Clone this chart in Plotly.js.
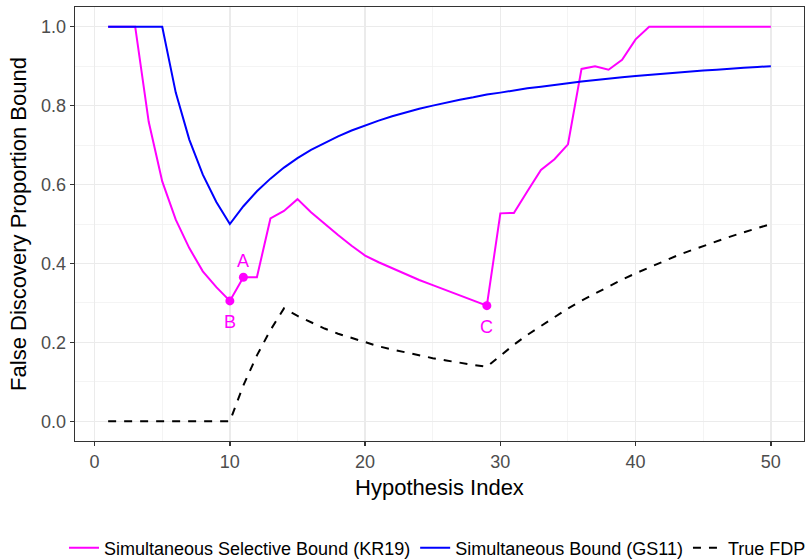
<!DOCTYPE html>
<html>
<head>
<meta charset="utf-8">
<script src="https://cdn.plot.ly/plotly-3.0.1.min.js"></script>
<style>html,body{margin:0;padding:0;background:#fff;}#chart{width:808px;height:560px;}</style>
</head>
<body>
<div id="chart"></div>
<script>
// Hypothesis index (x)
const hypIndex = [1,2,3,4,5,6,7,8,9,10,11,12,13,14,15,16,17,18,19,20,21,22,23,24,25,26,27,28,29,30,31,32,33,34,35,36,37,38,39,40,41,42,43,44,45,46,47,48,49,50];

// Simultaneous Selective Bound (KR19)
const kr19 = [1.0,1.0,1.0,0.759,0.608,0.511,0.439,0.38,0.340,0.305,0.365,0.365,0.514,0.533,0.563,0.530,0.500,0.472,0.445,0.420,0.403,0.388,0.372,0.358,0.345,0.332,0.318,0.305,0.293,0.527,0.528,0.583,0.637,0.664,0.702,0.893,0.900,0.891,0.916,0.968,1.0,1.0,1.0,1.0,1.0,1.0,1.0,1.0,1.0,1.0];

// Simultaneous Bound (GS11)
const gs11 = [1.0,1.0,1.0,1.0,1.0,0.833,0.714,0.625,0.556,0.5,0.545,0.583,0.615,0.643,0.667,0.688,0.706,0.722,0.737,0.75,0.762,0.773,0.783,0.792,0.8,0.808,0.815,0.821,0.828,0.833,0.839,0.844,0.848,0.853,0.857,0.861,0.865,0.868,0.872,0.875,0.878,0.881,0.884,0.886,0.889,0.891,0.894,0.896,0.898,0.9];

// True FDP
const trueFDP = [0,0,0,0,0,0,0,0,0,0,0.091,0.167,0.231,0.286,0.267,0.25,0.235,0.222,0.211,0.2,0.19,0.182,0.174,0.167,0.16,0.154,0.148,0.143,0.138,0.167,0.194,0.219,0.242,0.265,0.286,0.306,0.324,0.342,0.359,0.375,0.39,0.405,0.419,0.432,0.444,0.457,0.468,0.479,0.49,0.5];

// Labelled points on KR19
const pointIdx = [11, 10, 29];
const pointLabels = ['A', 'B', 'C'];
const labelAbove = [true, false, false];

const xTicks = [0,10,20,30,40,50];
const yTicks = [0.0,0.2,0.4,0.6,0.8,1.0];

const FONT = 'Liberation Sans, Arial, sans-serif';
const MAG = '#FF00FF', BLUE = '#0000FF';

const ptY = pointIdx.map(i => kr19[hypIndex.indexOf(i)]);

const traces = [
  {x: hypIndex, y: kr19, type: 'scatter', mode: 'lines', name: 'Simultaneous Selective Bound (KR19)',
   line: {color: MAG, width: 2}},
  {x: hypIndex, y: gs11, type: 'scatter', mode: 'lines', name: 'Simultaneous Bound (GS11)',
   line: {color: BLUE, width: 2}},
  {x: hypIndex, y: trueFDP, type: 'scatter', mode: 'lines', name: 'True FDP',
   line: {color: '#000000', width: 2, dash: '8px,8px'}},
  {x: pointIdx, y: ptY, type: 'scatter', mode: 'markers', showlegend: false,
   marker: {color: MAG, size: 9}}
];

const annotations = pointIdx.map((xi, k) => ({
  x: xi, y: ptY[k], xref: 'x', yref: 'y', text: pointLabels[k], showarrow: false,
  yshift: labelAbove[k] ? 16 : -21, xanchor: 'center', yanchor: 'middle',
  font: {family: FONT, size: 18, color: MAG}
}));

const axisCommon = {
  showgrid: true, gridcolor: '#EBEBEB', gridwidth: 1.3,
  zeroline: false, showline: true, mirror: true, linecolor: '#333333', linewidth: 1.3,
  ticks: 'outside', ticklen: 4, tickwidth: 1.3, tickcolor: '#333333',
  tickfont: {family: FONT, size: 18, color: '#4D4D4D'}, automargin: false
};

const layout = {
  width: 808, height: 560,
  margin: {l: 75, r: 4, t: 7, b: 119, autoexpand: false},
  paper_bgcolor: '#FFFFFF', plot_bgcolor: '#FFFFFF',
  font: {family: FONT},
  showlegend: true,
  xaxis: Object.assign({}, axisCommon, {
    range: [-1.45, 52.45], tickmode: 'array', tickvals: xTicks, ticktext: xTicks.map(String),
    minor: {dtick: 5, tick0: 0, showgrid: true, gridcolor: '#F0F0F0', gridwidth: 0.7, ticks: ''},
    title: {text: 'Hypothesis Index', font: {family: FONT, size: 22, color: '#000000'}, standoff: 8}
  }),
  yaxis: Object.assign({}, axisCommon, {
    range: [-0.05, 1.05], tickmode: 'array', tickvals: yTicks, ticktext: yTicks.map(v => v.toFixed(1)),
    minor: {dtick: 0.1, tick0: 0, showgrid: true, gridcolor: '#F0F0F0', gridwidth: 0.7, ticks: ''},
    title: {text: 'False Discovery Proportion Bound', font: {family: FONT, size: 22, color: '#000000'}, standoff: 8}
  }),
  legend: {
    orientation: 'h', xref: 'paper', yref: 'paper',
    x: -0.0151, xanchor: 'left', y: -0.2465, yanchor: 'middle',
    font: {family: FONT, size: 18, color: '#000000'}, bgcolor: 'rgba(0,0,0,0)',
    itemwidth: 30, traceorder: 'normal', borderwidth: 0
  },
  annotations: annotations
};

Plotly.newPlot('chart', traces, layout, {displayModeBar: false, staticPlot: true});
</script>
</body>
</html>
